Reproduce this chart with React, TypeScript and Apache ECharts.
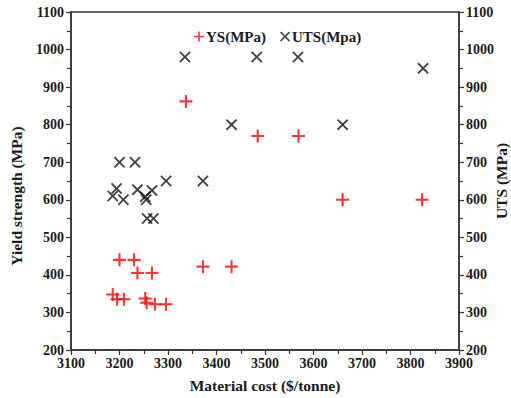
import React, { useEffect, useRef } from "react";
import * as echarts from "echarts";

const ysCost = [3186, 3195, 3209, 3200, 3230, 3237, 3253, 3256, 3267, 3273, 3296, 3337, 3372, 3431, 3485, 3569, 3660, 3824];
const ysVal = [348, 335, 335, 440, 440, 405, 337, 326, 405, 322, 322, 862, 422, 422, 770, 770, 600, 600];

const utsCost = [3186, 3194, 3208, 3200, 3232, 3237, 3253, 3255, 3267, 3257, 3270, 3296, 3372, 3335, 3431, 3483, 3568, 3660, 3826];
const utsVal = [610, 630, 600, 700, 700, 627, 608, 600, 625, 550, 550, 650, 650, 980, 800, 980, 980, 800, 950];

const seriesNames = ["YS(MPa)", "UTS(Mpa)"];
const xName = "Material cost ($/tonne)";
const yLeftName = "Yield strength (MPa)";
const yRightName = "UTS (MPa)";

const PLUS = "path://M0,5.05H5.05V0H6.95V5.05H12V6.95H6.95V12H5.05V6.95H0Z";
const CROSS = "path://M0,1.35L1.35,0L6,4.65L10.65,0L12,1.35L7.35,6L12,10.65L10.65,12L6,7.35L1.35,12L0,10.65L4.65,6Z";
const FONT = "'Liberation Serif', 'Times New Roman', Times, serif";
const TXT = "#1a1a1a";
const fmt = (v: number) => String(v);

export default function App() {
  const ref = useRef<HTMLDivElement>(null);
  useEffect(() => {
    document.body.style.margin = "0";
    const chart = echarts.init(ref.current!, null, { renderer: "svg" });
    const axisCommon = {
      type: "value" as const,
      min: 200,
      max: 1100,
      interval: 100,
      axisLine: { show: true, lineStyle: { color: "#333", width: 1.5 } },
      axisTick: { show: true, inside: false, length: 5, lineStyle: { color: "#333", width: 1.2 } },
      minorTick: { show: true, splitNumber: 2, length: 4, lineStyle: { color: "#333", width: 1.2 } },
      splitLine: { show: false },
      axisLabel: { color: TXT, fontFamily: FONT, fontWeight: "bold" as const, fontSize: 14, margin: 7, formatter: fmt },
      nameLocation: "middle" as const,
      nameMoveOverlap: false,
    };
    chart.setOption({
      animation: false,
      grid: {
        left: 71, right: 52, top: 12, bottom: 48,
        outerBoundsMode: "none",
        containLabel: false,
        show: true, borderColor: "#333", borderWidth: 1.5, backgroundColor: "transparent",
      },
      legend: {
        top: 24,
        left: 189,
        itemWidth: 10,
        itemHeight: 10,
        itemGap: 14,
        textStyle: { color: TXT, fontFamily: FONT, fontWeight: "bold", fontSize: 15, padding: [0, 0, 0, -3] },
        data: seriesNames,
      },
      xAxis: {
        type: "value",
        min: 3100,
        max: 3900,
        interval: 100,
        axisLine: { show: true, lineStyle: { color: "#333", width: 1.5 } },
        axisTick: { show: true, length: 5, lineStyle: { color: "#333", width: 1.2 } },
        minorTick: { show: true, splitNumber: 2, length: 4, lineStyle: { color: "#333", width: 1.2 } },
        splitLine: { show: false },
        axisLabel: { color: TXT, fontFamily: FONT, fontWeight: "bold", fontSize: 14, margin: 6, formatter: fmt },
        name: xName,
        nameLocation: "middle",
        nameMoveOverlap: false,
        nameGap: 27,
        nameTextStyle: { color: TXT, fontFamily: FONT, fontWeight: "bold", fontSize: 15.5 },
      },
      yAxis: [
        {
          ...axisCommon, position: "left", name: yLeftName, nameGap: 47,
          nameTextStyle: { color: TXT, fontFamily: FONT, fontWeight: "bold", fontSize: 15.5, padding: [0, 30, 0, 0] },
        },
        {
          ...axisCommon, position: "right", name: yRightName, nameGap: 34,
          nameTextStyle: { color: TXT, fontFamily: FONT, fontWeight: "bold", fontSize: 15.5 },
        },
      ],
      series: [
        {
          name: seriesNames[0],
          type: "scatter",
          yAxisIndex: 0,
          symbol: PLUS,
          symbolSize: 13,
          itemStyle: { color: "#ff0000" },
          data: ysCost.map((c, i) => [c, ysVal[i]]),
        },
        {
          name: seriesNames[1],
          type: "scatter",
          yAxisIndex: 1,
          symbol: CROSS,
          symbolSize: 11.5,
          itemStyle: { color: "#111111" },
          data: utsCost.map((c, i) => [c, utsVal[i]]),
        },
      ],
    });
    return () => chart.dispose();
  }, []);
  return <div ref={ref} style={{ width: 511, height: 398 }} />;
}
